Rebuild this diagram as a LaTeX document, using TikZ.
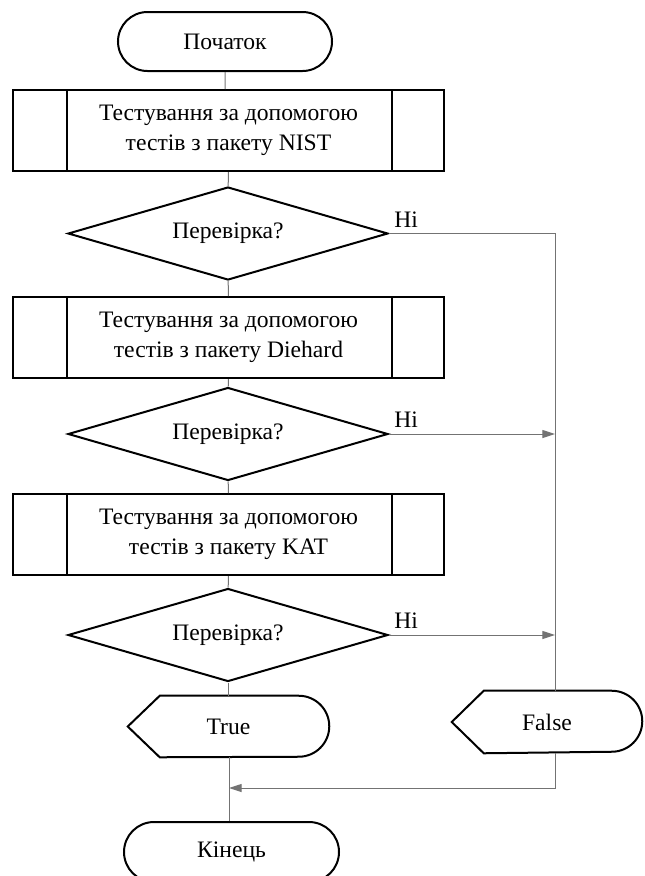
\documentclass[tikz,border=0pt]{standalone}
\usepackage{fontspec}
\setmainfont{Liberation Serif}
\usetikzlibrary{shapes.geometric,shapes.misc,arrows.meta}

\begin{document}
\begin{tikzpicture}[x=0.75pt,y=0.75pt,yscale=-1,xscale=1,
    every node/.style={font=\fontsize{17.7}{22.5}\selectfont, align=center},
    outline/.style={line width=1.5pt, black},
    link/.style={line width=0.75pt, black!55},
    arr/.style={link, -{Triangle[length=9.5pt,width=6pt]}},
    terminal/.style={rounded rectangle, draw, outline, minimum width=214*0.75pt, minimum height=59*0.75pt, inner sep=0pt},
    testbox/.style={rectangle, draw, outline, minimum width=431*0.75pt, minimum height=81*0.75pt, inner sep=0pt},
    check/.style={diamond, draw, outline, aspect=3.44, minimum width=320*0.75pt, minimum height=93*0.75pt, inner sep=0pt},
    showbox/.style={rectangle, inner sep=0pt},
    nolabel/.style={anchor=south west, inner sep=0pt, xshift=3.75pt, yshift=4.5pt}]
    \useasboundingbox (0,0) rectangle (644,876);

    %Shape: Terminals
    \node[terminal] (start) at (225,41.5) {Початок};
    \node[terminal, minimum width=215*0.75pt, minimum height=60*0.75pt] (end) at (231.5,852) {Кінець};

    %Shape: Test blocks
    \node[testbox] (nist) at (228.5,130.5) {Тестування за допомогою\\тестів з пакету NIST};
    \node[testbox] (diehard) at (228.5,337.5) {Тестування за допомогою\\тестів з пакету Diehard};
    \node[testbox] (kat) at (228.5,534.5) {Тестування за допомогою\\тестів з пакету KAT};
    \foreach \n in {nist,diehard,kat} {
        \draw[outline] ([xshift=55*0.75pt]\n.north west) -- ([xshift=55*0.75pt]\n.south west);
        \draw[outline] ([xshift=-53*0.75pt]\n.north east) -- ([xshift=-53*0.75pt]\n.south east);
    }

    %Shape: Decisions
    \node[check] (dec1) at (228,233.5) {Перевірка?};
    \node[check] (dec2) at (228,434) {Перевірка?};
    \node[check] (dec3) at (228,635) {Перевірка?};

    %Shape: Display blocks
    \node[showbox, minimum width=201*0.75pt, minimum height=61*0.75pt] (true) at (228.5,726.5) {True};
    \node[showbox, minimum width=190*0.75pt, minimum height=62*0.75pt] (false) at (547,722) {False};
    \foreach \n in {true,false} {
        \draw[outline] (\n.west) -- ([xshift=32*0.75pt]\n.north west) -- ([xshift=-30.5*0.75pt]\n.north east)
            arc (-90:90:30.5*0.75pt) -- ([xshift=32*0.75pt]\n.south west) -- cycle;
    }

    %Straight Lines: main column
    \coordinate (rail) at (555,722);
    \coordinate (join) at (229,788);
    \draw[link] (start) -- (start |- nist.north);
    \draw[link] (nist) -- (dec1);
    \draw[link] (dec1) -- (diehard);
    \draw[link] (diehard) -- (dec2);
    \draw[link] (dec2) -- (kat);
    \draw[link] (kat) -- (dec3);
    \draw[link] (dec3.south) -- (dec3.south |- true.north);
    \draw[link] (join |- true.south) -- (join |- end.north);

    %Straight Lines: failed checks
    \draw[link] (dec1.east) -| (rail |- false.north);
    \draw[arr] (dec2.east) -- (dec2.east -| rail);
    \draw[arr] (dec3.east) -- (dec3.east -| rail);
    \draw[arr] (rail |- false.south) |- (join);

    % Text Node
    \node[nolabel] at (dec1.east) {Ні};
    \node[nolabel] at (dec2.east) {Ні};
    \node[nolabel] at (dec3.east) {Ні};
\end{tikzpicture}
\end{document}
